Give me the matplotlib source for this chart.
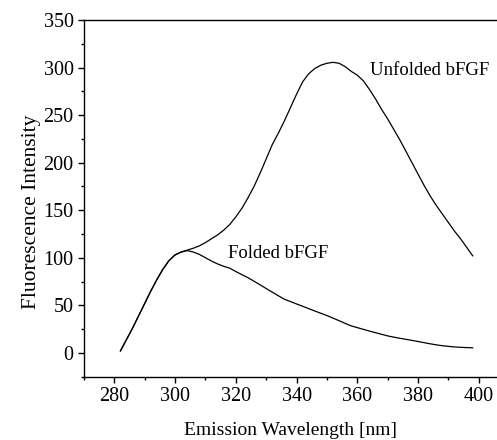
import numpy as np
import matplotlib.pyplot as plt
from matplotlib.ticker import MultipleLocator

plt.rcParams['font.family'] = ['Liberation Serif', 'DejaVu Serif']

# emission wavelengths [nm]
wavelength = np.arange(282, 399, 2)

# fluorescence intensity of the denatured protein
unfolded = [2, 14, 26, 39, 52, 65, 77, 88, 97, 103,
            106, 108, 110, 112.5, 116, 120, 124, 129, 135, 143,
            152, 163, 175, 189, 204, 219, 231, 244, 258, 272,
            285, 293.5, 299, 302.5, 304.5, 305.5, 304.5, 301, 296, 292,
            286, 277, 267, 256, 246, 235, 224, 212, 200, 188,
            176, 165, 155, 146, 137, 128, 120, 111, 102]

# fluorescence intensity of the native protein
folded = [2, 14, 26, 39, 52, 65, 77, 88, 97, 103,
          106, 107.5, 106, 103.5, 100, 96.5, 93.5, 91, 89, 85.5,
          82.2, 79, 75.3, 71.5, 67.6, 63.8, 60, 56.4, 53.9, 51.4,
          49, 46.5, 44, 41.6, 39.2, 36.5, 33.8, 31, 28.3, 26.5,
          24.7, 22.9, 21.2, 19.5, 17.8, 16.5, 15.3, 14.2, 13.1, 11.9,
          10.7, 9.5, 8.4, 7.5, 6.8, 6.2, 5.8, 5.5, 5.3]

fig = plt.figure(figsize=(4.97, 4.40), dpi=100)
ax = fig.add_axes([0.169, 0.143, 0.831, 0.8115])

ax.plot(wavelength, unfolded, color='black', lw=0.9)
ax.plot(wavelength, folded, color='black', lw=0.9)

ax.text(364.1, 297, 'Unfolded bFGF', fontsize=13.5, va='center', ha='left')
ax.text(317.4, 104, 'Folded bFGF', fontsize=13.5, va='center', ha='left')

ax.set_xlim(270, 406)
ax.set_ylim(-25.5, 350)
ax.xaxis.set_major_locator(MultipleLocator(20))
ax.xaxis.set_minor_locator(MultipleLocator(10))
ax.yaxis.set_major_locator(MultipleLocator(50))
ax.yaxis.set_minor_locator(MultipleLocator(25))

ax.spines['right'].set_visible(False)
for s in ['left', 'bottom', 'top']:
    ax.spines[s].set_linewidth(1.0)

ax.tick_params(which='major', direction='out', length=4, width=1.0, labelsize=14.5)
ax.tick_params(which='minor', direction='out', length=2.5, width=1.0)
ax.tick_params(top=False, right=False)

ax.set_xlabel('Emission Wavelength [nm]', fontsize=14)
ax.set_ylabel('Fluorescence Intensity', fontsize=15.5)
ax.xaxis.set_label_coords(0.5, -0.125)
ax.yaxis.set_label_coords(-0.104, 0.462)

fig.savefig('out.png', dpi=100)
